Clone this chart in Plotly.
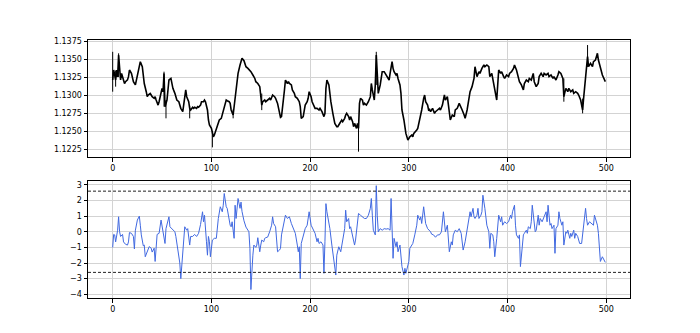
import plotly.graph_objects as go

# ---- top panel: price (pips above 1.1200) ----
price_idx = [0,1,2,3,4,5,6,7,8,9,11,12,13,15,16,17,19,20,21,23,24,26,27,28,30,31,32,34,35,36,38,39,40,42,43,44,46,47,48,50,
             51,52,53,55,56,57,59,60,61,63,64,65,67,68,69,71,72,73,74,75,77,78,79,81,82,83,85,86,87,89,90,92,93,94,96,97,98,100,
             101,102,103,104,106,107,108,110,111,112,114,115,116,118,119,120,122,123,125,126,127,129,130,131,133,134,135,137,139,140,
             142,144,145,147,149,150,151,152,154,155,157,159,160,162,164,165,167,169,170,171,173,174,175,177,178,179,181,182,184,185,
             187,189,190,191,193,194,195,197,198,199,201,202,204,205,207,209,210,212,214,215,216,217,219,220,221,223,224,225,227,228,
             229,231,232,233,235,236,237,239,240,241,243,244,245,247,248,249,250,251,253,254,255,257,258,259,261,262,263,265,266,267,
             268,269,271,272,273,275,276,277,279,280,281,283,284,285,287,288,289,291,292,293,295,296,297,299,300,301,303,304,305,307,
             308,309,311,312,313,315,316,317,319,320,321,322,324,326,327,329,331,332,334,336,337,339,341,342,344,346,347,349,351,352,
             354,356,357,359,361,362,364,366,367,369,371,372,374,376,377,379,381,382,384,386,387,389,390,391,393,394,396,397,399,401,
             402,404,406,407,409,411,412,414,416,417,419,421,422,424,426,427,429,431,432,434,436,437,439,441,442,444,446,447,449,451,
             452,454,456,457,459,461,462,464,466,467,469,471,472,474,476,477,479,481,482,484,486,487,489,491,492,494,496,499]
price_pips = [120.8,134.7,127.8,120.8,134.7,125,155.5,130,121,130,121,116,118.5,121,125.5,134.7,130,123,118.5,114,121,130,141.7,146.3,139.3,127.8,116,104.6,97.7,100,
              102.3,100,97.7,95.4,97.7,93,86,90.7,97.7,109.3,104.6,130,83.8,93,107,120.8,123,114,109.3,102.3,95.4,93,90.7,86,81.5,76.8,88.4,102.3,107,97.7,
              90.7,81.5,79.2,82.9,81.5,82.9,81.5,83.8,82.9,86,90.7,90.7,93,90.7,79.2,65.3,58.3,53.7,46.7,42,44.4,49,56,60.6,65.3,67.6,72.2,76.8,
              88.4,93,92,90.7,88.4,79.2,72.2,83.8,104.6,116,130,141.7,148.6,151,147.7,144,139.3,137,134.7,132.4,127.8,123,118.5,116,111.6,102.3,86,90.7,
              93,90.7,93,95.4,93,100,97.7,95.4,88.4,76.8,69,70,90.7,107,120.8,116,118.5,116,114,107,102.3,97.7,95.4,90.7,83.8,67.6,70,79.2,
              86,90.7,95.4,104.6,97.7,90.7,83.8,81.5,81.5,79.2,81.5,76.8,70,74.5,109.3,120.8,114,100,90.7,74.5,67.6,60.6,56,56,58.3,63,65.3,63,
              67.6,72.2,74.5,70,65.3,70,63,56,60.6,53.7,60.6,53.7,88.4,95.4,93,86,88.4,86,88.4,90.7,97.7,116,107,93,114,155.5,130,102.3,
              114,123,132.4,132.4,130,127.8,123,120.8,130,146.3,137,132.4,127.8,130,123,114,102.3,79.2,65.3,56,46.7,37.5,39.8,42,44.4,42,46.7,49,
              51.4,53.7,65.3,70,79.2,95.4,100,90.7,86,79.2,80,76.8,81.5,74.5,76.8,79.2,81.5,79.2,86,100,93,97.7,79.2,65.3,72.2,70,79.2,81.5,
              88.4,86,79.2,72.2,67.6,79.2,95.4,104.6,111.6,123,139.3,125.5,132.4,130,137,141.7,139.3,141.7,139.3,125.5,130,114,107,93,114,134.7,
              130,132.4,125.5,123,127.8,125.5,130,132.4,137,141.7,134.7,125.5,118.5,114,107,116,120.8,118.5,123,120.8,130,118.5,111.6,116,125.5,130,
              125.5,130,127.8,130,125.5,127.8,123,125.5,120.8,127.8,132.4,130,123,97.7,109.3,104.6,109.3,104.6,107,102.3,104.6,102.3,100,93,79.2,95.4,
              120.8,153.2,139.3,144,139.3,146.3,148.6,157.9,148.6,139.3,127.8,118.5]

# notable wicks (bar index, low, high) in pips above 1.1200
wick_idx = [0, 3, 6, 52, 54, 78, 101, 122, 151, 249, 267, 457, 476, 481]
wick_low = [104.6, 111.6, 125, 83.8, 67.6, 67.6, 27.3, 67.6, 79, 21.3, 114, 90.7, 74.5, 139]
wick_high = [160, 134, 157.9, 132.4, 93, 85, 50, 80, 102, 60, 160, 123, 95, 169.4]

# ---- bottom panel: indicator ----
ind_idx = [0,1,2,3,5,6,7,8,10,11,13,15,16,17,19,21,22,23,25,27,28,29,31,32,33,35,37,39,40,42,43,45,47,49,50,51,53,54,57,58,
           60,63,64,66,68,69,70,72,73,75,76,78,79,81,83,85,87,89,91,92,93,95,96,97,98,99,101,103,105,107,109,111,112,113,115,116,117,119,120,121,
           123,124,125,126,127,129,130,131,132,133,135,137,138,139,140,142,143,145,146,147,149,150,151,153,154,155,157,159,161,162,163,165,166,167,169,170,
           171,173,175,177,179,181,183,185,187,188,189,190,191,193,194,195,197,198,199,201,203,205,207,208,209,211,213,214,215,216,217,219,220,222,
           223,225,226,227,229,231,233,235,236,237,239,240,241,243,245,246,248,249,251,253,255,257,259,261,262,263,264,266,267,268,269,271,273,275,
           277,279,281,282,283,284,285,287,288,289,291,292,293,295,296,297,299,300,301,303,304,306,308,309,311,312,313,315,316,317,319,321,322,323,
           325,327,329,331,333,335,336,337,339,340,341,343,344,345,347,349,351,353,354,355,357,358,360,362,363,365,366,367,369,370,371,373,374,375,
           377,378,379,381,382,383,385,386,387,389,390,391,393,394,395,397,399,401,403,404,405,407,408,409,411,412,413,415,416,417,419,420,421,423,
           424,425,427,428,429,431,432,433,435,436,437,439,440,441,443,444,445,447,448,449,451,452,453,455,456,457,459,460,461,463,464,465,467,468,
           469,471,472,473,475,476,477,479,480,481,483,485,487,488,489,491,492,493,494,496,499]
ind_val = [-1.0,-0.17,-0.2,-0.65,0.1,0.96,0,-0.3,-0.17,-0.65,-0.8,-0.85,-0.65,-0.05,-0.1,-0.3,-1.1,0.1,0.75,1.0,0.42,-0.2,-0.9,-0.85,-1.6,-1.2,-0.95,-1.05,-1.3,-1.05,
           -1.9,-0.17,-0.1,0.75,0.42,-0.1,-0.75,0.2,0.96,0.32,0.2,0,-0.3,-1.3,-2.0,-3.0,-2.0,0,0.32,0.1,0.2,-0.85,-0.3,-0.3,-0.17,-0.3,-0.1,0.47,1.28,0.64,
           1.06,-0.64,-1.5,-0.3,-0.64,-1.6,-0.53,-0.42,-0.42,0.85,1.6,1.28,1.7,2.45,1.6,1.5,1.06,0.42,0.32,0.64,-0.42,1.7,0.85,1.5,2.13,1.5,1.9,1.3,0.96,0.7,
           0.3,0.1,0,-1.06,-3.7,-1.5,-0.85,-1.0,-0.85,-0.38,-1.28,-0.85,-0.53,-0.64,-0.42,-0.38,-0.34,0,0.42,0.96,0.53,0.32,-0.42,-1.28,-1.17,-1.06,
           -0.2,0.42,1.06,0.85,0.96,0.53,0.2,-0.1,-0.85,-1.28,-0.96,-3.0,-0.75,-0.2,0,0.2,0.42,0.85,1.28,0.42,0.2,-0.1,-0.64,-0.42,-0.75,-0.64,-0.85,-2.66,-0.64,1.8,1.28,0.64,0.2,-0.85,
           -1.38,-2.55,-2.77,-1.5,-0.96,-1.28,-0.64,0.2,1.38,0.64,0.85,0.2,0.32,-0.2,-0.85,-0.53,0.42,1.17,1.06,0.96,0.85,0.85,1.06,1.5,2.13,1.06,0.1,-0.2,2.95,1.06,0,0.2,0.1,0.2,
           0.17,0.2,0.1,2.13,-0.1,-1.7,-0.42,-0.96,-0.64,-1.28,-0.85,-1.7,-2.23,-2.77,-2.34,-2.66,-2.13,-1.9,-1.06,-0.85,-0.75,-0.2,0.42,1.06,0.75,0.96,0.53,1.6,0.85,0.53,0.2,0.05,0,-0.15,
           -0.2,-0.35,-0.2,-0.2,0,1.28,0.42,0,0.42,-0.85,-1.28,-0.64,-0.85,-0.2,0.1,0,0.2,-0.1,-0.64,-1.17,-0.64,-0.2,0.64,1.28,0.96,1.5,0.96,0.85,1.06,1.5,0.85,1.06,1.28,2.34,
           1.5,0.85,0.42,0,-1.06,-0.1,-0.2,-0.64,-1.6,-0.42,0.42,1.06,0.64,0.96,0.42,0.64,0.53,0.64,1.06,0.85,1.28,1.7,0.42,-0.2,-0.42,-0.2,-2.23,-0.64,-0.2,-0.1,0.1,-0.1,0.32,0.2,
           0.64,1.7,0.42,0,0.1,1.06,0.42,0.85,0.64,0.85,0.96,1.28,0.64,1.7,0.42,0.53,0.2,0.42,-1.38,0.2,0.42,1.28,0.85,0.42,0.64,-0.85,0,-0.1,0.1,-0.42,-0.1,-0.3,0.1,-0.42,
           -0.1,-0.3,-0.64,-0.75,-0.75,-0.2,0.42,1.5,0.85,0.42,0.64,0.53,0.42,1.06,0.85,0.42,-0.1,-1.5,-1.9,-1.6,-1.96]
threshold = 2.6

x_ticks = [0, 100, 200, 300, 400, 500]
price_ticks = [1.1225, 1.1250, 1.1275, 1.1300, 1.1325, 1.1350, 1.1375]
ind_ticks = [-4, -3, -2, -1, 0, 1, 2, 3]

base = 1.12
close = [base + p / 10000 for p in price_pips]
wx, wy = [], []
for i, lo, hi in zip(wick_idx, wick_low, wick_high):
    wx += [i, i, None]
    wy += [base + lo / 10000, base + hi / 10000, None]

fig = go.Figure()
fig.add_trace(go.Scatter(x=price_idx, y=close, mode="lines",
                         line=dict(color="black", width=1.6), xaxis="x", yaxis="y", showlegend=False))
fig.add_trace(go.Scatter(x=wx, y=wy, mode="lines", line=dict(color="black", width=1),
                         xaxis="x", yaxis="y", showlegend=False))
fig.add_trace(go.Scatter(x=ind_idx, y=ind_val, mode="lines",
                         line=dict(color="royalblue", width=1), xaxis="x2", yaxis="y2", showlegend=False))

for lvl in (threshold, -threshold):
    fig.add_shape(type="line", xref="x2 domain", yref="y2", x0=0, x1=1, y0=lvl, y1=lvl,
                  line=dict(color="#222222", width=1, dash="3px,2px"))

axis_common = dict(showline=True, linecolor="black", linewidth=1, mirror=True,
                   ticks="outside", ticklen=3.5, tickcolor="black", tickwidth=1,
                   showgrid=True, gridcolor="#d3d3d3", gridwidth=1, zeroline=False,
                   tickfont=dict(family="DejaVu Sans", size=8, color="black"))

fig.update_layout(
    width=700, height=333,
    margin=dict(l=88, r=70, t=40, b=35),
    plot_bgcolor="white", paper_bgcolor="white",
    xaxis=dict(domain=[0, 1], range=[-25, 524], tickvals=x_ticks, anchor="y", **axis_common),
    yaxis=dict(domain=[0.5465, 1], range=[1.12139, 1.13764], tickvals=price_ticks,
               tickformat=".4f", anchor="x", **axis_common),
    xaxis2=dict(domain=[0, 1], range=[-25, 524], tickvals=x_ticks, anchor="y2", **axis_common),
    yaxis2=dict(domain=[0, 0.4535], range=[-4.24, 3.25], tickvals=ind_ticks, anchor="x2", **axis_common),
)

fig.write_html("out.html")
